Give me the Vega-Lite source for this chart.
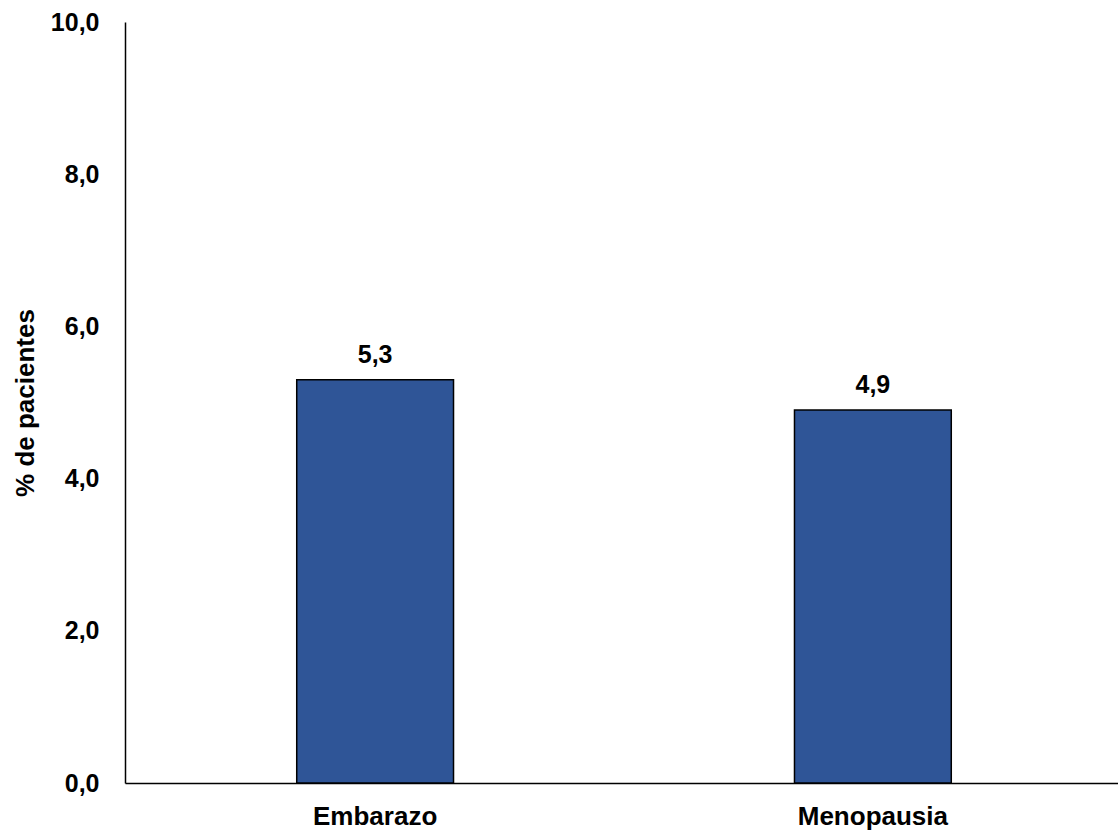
{
  "$schema": "https://vega.github.io/schema/vega-lite/v6.json",
  "autosize": "none",
  "padding": {"left": 125, "top": 22, "right": 0, "bottom": 54},
  "width": 998,
  "height": 761,
  "background": "white",
  "config": {
    "view": {"stroke": null},
    "font": "Liberation Sans",
    "locale": {
      "number": {"decimal": ",", "thousands": ".", "grouping": [3], "currency": ["", " €"]}
    }
  },
  "data": {
    "values": [
      {"grupo": "Embarazo", "pct": 5.3},
      {"grupo": "Menopausia", "pct": 4.9}
    ]
  },
  "encoding": {
    "x": {
      "field": "grupo",
      "type": "nominal",
      "sort": null,
      "scale": {"paddingInner": 0.685, "paddingOuter": 0.345},
      "axis": {
        "title": null,
        "labelAngle": 0,
        "labelFont": "Liberation Sans",
        "labelFontWeight": "bold",
        "labelFontSize": 26,
        "labelColor": "#000000",
        "labelPadding": 20,
        "ticks": false,
        "domainColor": "#000000",
        "domainWidth": 1.5
      }
    },
    "y": {
      "field": "pct",
      "type": "quantitative",
      "scale": {"domain": [0, 10], "nice": false},
      "axis": {
        "title": "% de pacientes",
        "titleFont": "Liberation Sans",
        "titleFontWeight": "bold",
        "titleFontSize": 26,
        "titleColor": "#000000",
        "titlePadding": 12,
        "values": [0, 2, 4, 6, 8, 10],
        "format": ".1f",
        "labelFont": "Liberation Sans",
        "labelFontWeight": "bold",
        "labelFontSize": 25,
        "labelColor": "#000000",
        "labelPadding": 26,
        "ticks": false,
        "grid": false,
        "domainColor": "#000000",
        "domainWidth": 1.5
      }
    }
  },
  "layer": [
    {
      "mark": {"type": "bar", "color": "#2F5597", "stroke": "#000000", "strokeWidth": 1.5}
    },
    {
      "mark": {
        "type": "text",
        "font": "Liberation Sans",
        "fontWeight": "bold",
        "fontSize": 25,
        "color": "#000000",
        "baseline": "alphabetic",
        "dy": -17
      },
      "encoding": {
        "text": {"field": "pct", "type": "quantitative", "format": ".1f"}
      }
    }
  ]
}
